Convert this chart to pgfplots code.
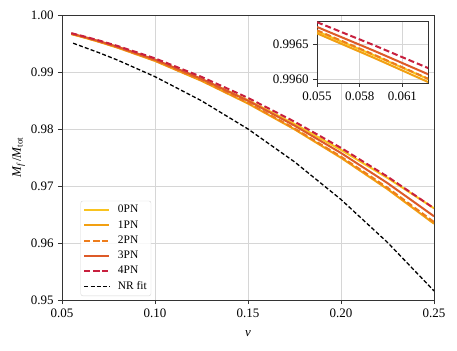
\documentclass[border=0pt]{standalone}
\usepackage{pgfplots}
\pgfplotsset{compat=1.18}
\usepackage{fontspec}
\setmainfont{Liberation Serif}
\definecolor{c0}{HTML}{F9C31F}
\definecolor{c1}{HTML}{F2A012}
\definecolor{c2}{HTML}{EE7D1C}
\definecolor{c3}{HTML}{DD5A28}
\definecolor{c4}{HTML}{C8203E}
\definecolor{gridc}{HTML}{D6D6D6}
\definecolor{spine}{HTML}{333333}
\pgfplotstableread{
nu p0 p1 p2 p3 p4
0.055 0.996683 0.996654 0.996697 0.996745 0.996813
0.059 0.996343 0.996307 0.996352 0.996408 0.996486
0.063 0.995989 0.995946 0.995993 0.996057 0.996145
0.070 0.995340 0.995281 0.995332 0.995411 0.995520
0.080 0.994343 0.994254 0.994312 0.994414 0.994557
0.100 0.992113 0.991940 0.992013 0.992173 0.992397
0.125 0.988788 0.988450 0.988547 0.988797 0.989147
0.150 0.985054 0.984470 0.984597 0.984957 0.985461
0.175 0.980877 0.979950 0.980112 0.980602 0.981288
0.200 0.976334 0.974950 0.975152 0.975792 0.976688
0.225 0.971420 0.969450 0.969698 0.970508 0.971642
0.250 0.966090 0.963390 0.963689 0.964689 0.966089
}\pn
\pgfplotstableread{
nu nr
0.056 0.99505
0.070 0.99337
0.080 0.99207
0.100 0.98918
0.125 0.98495
0.150 0.98000
0.175 0.97424
0.200 0.96763
0.225 0.96010
0.250 0.95160
}\nr
\begin{document}
\fontsize{13}{15}\selectfont
\begin{tikzpicture}
\useasboundingbox (-62bp,-51bp) rectangle (395bp,300bp);
\pgfplotsset{
  every axis/.append style={
    /pgf/number format/assume math mode=true,
    tick label style={font=\fontsize{13}{15}\selectfont},
    axis line style={spine, line width=0.9bp},
    grid style={gridc, line width=0.8bp},
    tick style={spine, line width=0.9bp},
    tick align=outside,
    xtick pos=bottom, ytick pos=left,
    major tick length=4bp,
    grid=major,
  }
}
\begin{axis}[
  name=main,
  scale only axis,
  width=372bp, height=285bp,
  xmin=0.05, xmax=0.25, ymin=0.95, ymax=1.0,
  xtick={0.05,0.10,0.15,0.20,0.25},
  ytick={0.95,0.96,0.97,0.98,0.99,1.00},
  xticklabel style={/pgf/number format/.cd, fixed, fixed zerofill, precision=2},
  yticklabel style={/pgf/number format/.cd, fixed, fixed zerofill, precision=2},
  scaled ticks=false,
  xlabel={\itshape ν},
  ylabel={\itshape M\textsubscript{f}\,\upshape/\itshape M\textsubscript{\upshape tot}},
  label style={font=\fontsize{13}{15}\selectfont},
  xlabel style={yshift=-4bp},
  ylabel style={yshift=-3bp},
  legend style={at={(0.05,0.014)}, anchor=south west, draw=gridc, rounded corners=2bp,
    fill=white, fill opacity=0.85, text opacity=1, font=\fontsize{11.5}{13}\selectfont,
    row sep=2.6bp, column sep=6bp, inner sep=2.5bp, nodes={inner sep=1.6bp}},
  legend cell align=left,
  legend image post style={xscale=1.47},
]
\addplot[c0, line width=2bp] table[x=nu,y=p0]{\pn};
\addlegendentry{0PN}
\addplot[c1, line width=2bp] table[x=nu,y=p1]{\pn};
\addlegendentry{1PN}
\addplot[c2, line width=2bp, dash pattern=on 6bp off 3bp] table[x=nu,y=p2]{\pn};
\addlegendentry{2PN}
\addplot[c3, line width=2bp] table[x=nu,y=p3]{\pn};
\addlegendentry{3PN}
\addplot[c4, line width=2bp, dash pattern=on 6bp off 3bp] table[x=nu,y=p4]{\pn};
\addlegendentry{4PN}
\addplot[black, line width=1.3bp, dash pattern=on 4bp off 2.2bp] table[x=nu,y=nr]{\nr};
\addlegendentry{NR fit}
\end{axis}
\begin{axis}[
  at={(255bp,217bp)}, anchor=south west,
  scale only axis,
  width=111bp, height=62bp,
  xmin=0.055, xmax=0.0628, ymin=0.99595, ymax=0.99683,
  xtick={0.055,0.058,0.061},
  ytick={0.9960,0.9965},
  xticklabel style={/pgf/number format/.cd, fixed, fixed zerofill, precision=3},
  yticklabel style={/pgf/number format/.cd, fixed, fixed zerofill, precision=4},
  scaled ticks=false,
  axis background/.style={fill=white},
]
\addplot[c0, line width=2bp] table[x=nu,y=p0]{\pn};
\addplot[c1, line width=2bp] table[x=nu,y=p1]{\pn};
\addplot[c2, line width=2bp, dash pattern=on 6bp off 3bp] table[x=nu,y=p2]{\pn};
\addplot[c3, line width=2bp] table[x=nu,y=p3]{\pn};
\addplot[c4, line width=2bp, dash pattern=on 6bp off 3bp] table[x=nu,y=p4]{\pn};
\end{axis}
\end{tikzpicture}
\end{document}
